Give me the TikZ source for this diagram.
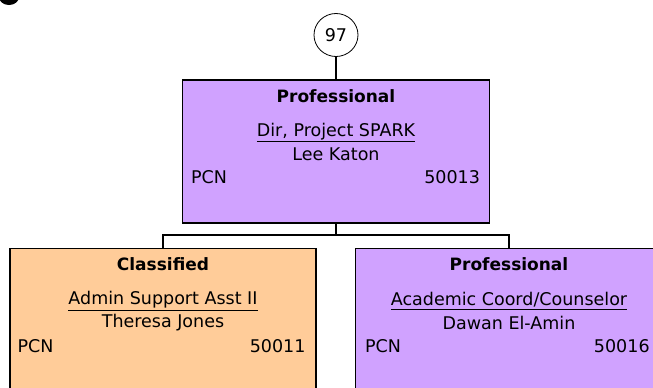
\documentclass[tikz,border=0pt]{standalone}
\usepackage{fontspec}
\setmainfont{DejaVu Sans}
\usepackage{tikz}
\usetikzlibrary{shapes.geometric,positioning,calc}
\usepackage{xcolor}
\definecolor{profPurple}{HTML}{D0A2FF}
\definecolor{classOrange}{HTML}{FFCC99}

\begin{document}
\begin{tikzpicture}[
    x=1pt, y=-1pt,
    font=\fontsize{17.5}{20}\selectfont,
    card/.style={rectangle, draw, line width=1.3pt,
                 minimum width=307pt, minimum height=143pt, inner sep=0pt},
    count/.style={ellipse, draw, line width=0.8pt, minimum width=44pt,
                  minimum height=43pt, inner sep=0pt},
    head/.style={font=\fontsize{17}{20}\selectfont\bfseries, inner sep=0pt},
    field/.style={inner sep=0pt},
    link/.style={line width=1.3pt},
]
    \useasboundingbox (0,0) rectangle (653,388);
    % cut-off mark in the corner
    \fill (9,-3) ellipse (10 and 8);

    \node[count] (cnt) at (336,35) {97};

    % director
    \node[card, fill=profPurple] (dir) at (336,151.5) {};
    \node[head] (dirHead) at ($(dir.north)+(0,17)$) {Professional};
    \node[field] (dirJob) at ($(dir.north)+(0,53)$) {\underline{Dir, Project SPARK}};
    \node[field] (dirName) at ($(dir.north)+(0,75)$) {Lee Katon};
    \node[field, anchor=west] (dirPcn) at ($(dir.north west)+(9,98)$) {PCN};
    \node[field, anchor=east] (dirNum) at ($(dir.north east)+(-10,98)$) {50013};

    % staff
    \node[card, fill=classOrange, minimum width=306pt, anchor=north]
         (adm) at (163,248) {};
    \node[head] (admHead) at ($(adm.north)+(0,16)$) {Classified};
    \node[field] (admJob) at ($(adm.north)+(0,53)$) {\underline{Admin Support Asst II}};
    \node[field] (admName) at ($(adm.north)+(0,75)$) {Theresa Jones};
    \node[field, anchor=west] (admPcn) at ($(adm.north west)+(8,98)$) {PCN};
    \node[field, anchor=east] (admNum) at ($(adm.north east)+(-11,98)$) {50011};

    \node[card, fill=profPurple, anchor=north] (aca) at (509,248) {};
    \node[head] (acaHead) at ($(aca.north)+(0,16)$) {Professional};
    \node[field] (acaJob) at ($(aca.north)+(0,53)$) {\underline{Academic Coord/Counselor}};
    \node[field] (acaName) at ($(aca.north)+(0,75)$) {Dawan El-Amin};
    \node[field, anchor=west] (acaPcn) at ($(aca.north west)+(10,98)$) {PCN};
    \node[field, anchor=east] (acaNum) at ($(aca.north west)+(295,98)$) {50016};

    % connectors
    \coordinate (bus) at (336,235);
    \draw[link] (cnt) -- (dir);
    \draw[link] (dir.south) -- (bus);
    \draw[link] (bus) -| (adm.north);
    \draw[link] (bus) -| (aca.north);
\end{tikzpicture}
\end{document}
